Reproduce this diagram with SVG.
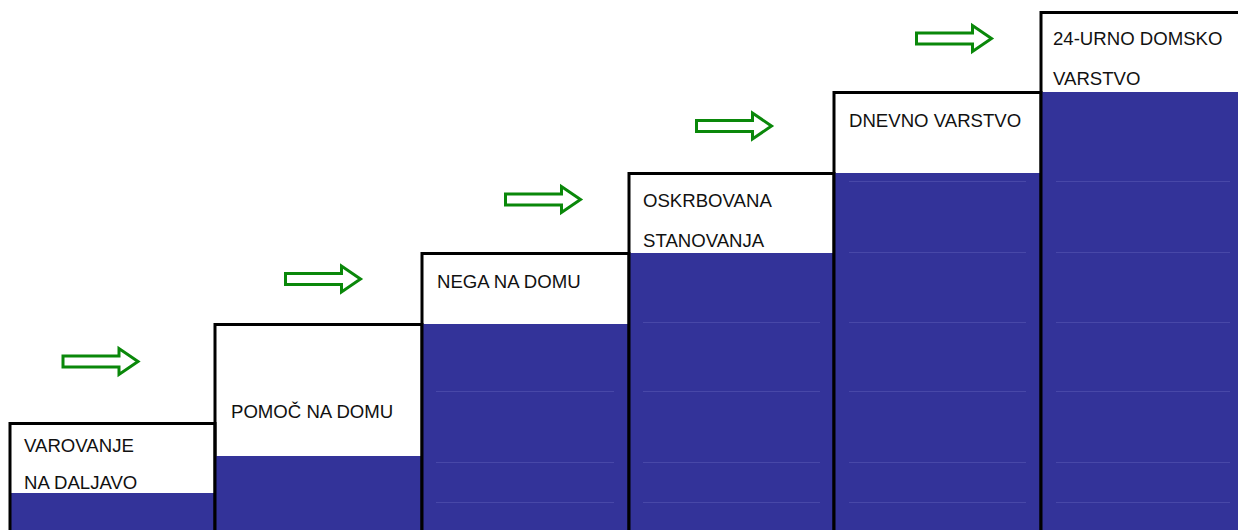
<svg xmlns="http://www.w3.org/2000/svg" width="1238" height="530" viewBox="0 0 1238 530">
  <style>
    .paper { fill: #ffffff; }
    .fill { fill: #333399; }
    .edge { fill: none; stroke: #000000; stroke-width: 3; }
    .seam { stroke: #4848a8; stroke-width: 1; }
    .lbl { font-family: "Liberation Sans", Arial, sans-serif; font-size: 18.6px; fill: #111111; }
    .arrow { fill: #ffffff; stroke: #0a880a; stroke-width: 3; stroke-linejoin: miter; }
  </style>
  <defs>
    <!-- hollow block arrow, origin at the tail centre -->
    <path id="step-arrow" d="M0,-5.5 H56 V-13 L75,0 L56,13 V5.5 H0 Z"/>
  </defs>

  <rect class="paper" x="0" y="0" width="1238" height="530"/>

  <!-- step 1 -->
  <g id="step-varovanje">
    <rect class="fill" x="10" y="493" width="205" height="40"/>
    <rect class="edge" x="10" y="423.5" width="205" height="110"/>
    <text class="lbl" x="24" y="452">VAROVANJE</text>
    <text class="lbl" x="24" y="489">NA DALJAVO</text>
  </g>

  <!-- step 2 -->
  <g id="step-pomoc">
    <rect class="fill" x="215" y="456" width="207" height="77"/>
    <rect class="edge" x="215" y="324.5" width="207" height="209"/>
    <text class="lbl" x="231" y="418">POMOČ NA DOMU</text>
  </g>

  <!-- step 3 -->
  <g id="step-nega">
    <rect class="fill" x="422" y="324" width="207" height="209"/>
    <line class="seam" x1="436" y1="391.5" x2="614" y2="391.5"/>
    <line class="seam" x1="436" y1="462.5" x2="614" y2="462.5"/>
    <line class="seam" x1="436" y1="502.5" x2="614" y2="502.5"/>
    <rect class="edge" x="422" y="253.5" width="207" height="280"/>
    <text class="lbl" x="437" y="288">NEGA NA DOMU</text>
  </g>

  <!-- step 4 -->
  <g id="step-oskrbovana">
    <rect class="fill" x="629" y="253" width="205" height="280"/>
    <line class="seam" x1="643" y1="322.5" x2="820" y2="322.5"/>
    <line class="seam" x1="643" y1="391.5" x2="820" y2="391.5"/>
    <line class="seam" x1="643" y1="462.5" x2="820" y2="462.5"/>
    <line class="seam" x1="643" y1="502.5" x2="820" y2="502.5"/>
    <rect class="edge" x="629" y="173.5" width="205" height="360"/>
    <text class="lbl" x="643" y="207">OSKRBOVANA</text>
    <text class="lbl" x="643" y="247">STANOVANJA</text>
  </g>

  <!-- step 5 -->
  <g id="step-dnevno">
    <rect class="fill" x="834" y="173" width="207" height="360"/>
    <line class="seam" x1="849" y1="181.5" x2="1026" y2="181.5"/>
    <line class="seam" x1="849" y1="252.5" x2="1026" y2="252.5"/>
    <line class="seam" x1="849" y1="322.5" x2="1026" y2="322.5"/>
    <line class="seam" x1="849" y1="391.5" x2="1026" y2="391.5"/>
    <line class="seam" x1="849" y1="462.5" x2="1026" y2="462.5"/>
    <line class="seam" x1="849" y1="502.5" x2="1026" y2="502.5"/>
    <rect class="edge" x="834" y="92.5" width="207" height="441"/>
    <text class="lbl" x="849" y="127">DNEVNO VARSTVO</text>
  </g>

  <!-- step 6 -->
  <g id="step-domsko">
    <rect class="fill" x="1041" y="92" width="200" height="441"/>
    <line class="seam" x1="1056" y1="181.5" x2="1230" y2="181.5"/>
    <line class="seam" x1="1056" y1="252.5" x2="1230" y2="252.5"/>
    <line class="seam" x1="1056" y1="322.5" x2="1230" y2="322.5"/>
    <line class="seam" x1="1056" y1="391.5" x2="1230" y2="391.5"/>
    <line class="seam" x1="1056" y1="462.5" x2="1230" y2="462.5"/>
    <line class="seam" x1="1056" y1="502.5" x2="1230" y2="502.5"/>
    <rect class="edge" x="1041" y="12.5" width="200" height="521"/>
    <text class="lbl" x="1053" y="45">24-URNO DOMSKO</text>
    <text class="lbl" x="1053" y="85">VARSTVO</text>
  </g>

  <!-- progression arrows between steps -->
  <g id="connectors">
    <use href="#step-arrow" class="arrow" transform="translate(63,361.5)"/>
    <use href="#step-arrow" class="arrow" transform="translate(285.5,279)"/>
    <use href="#step-arrow" class="arrow" transform="translate(505.5,199.5)"/>
    <use href="#step-arrow" class="arrow" transform="translate(696.5,126)"/>
    <use href="#step-arrow" class="arrow" transform="translate(916.5,38.5)"/>
  </g>
</svg>
